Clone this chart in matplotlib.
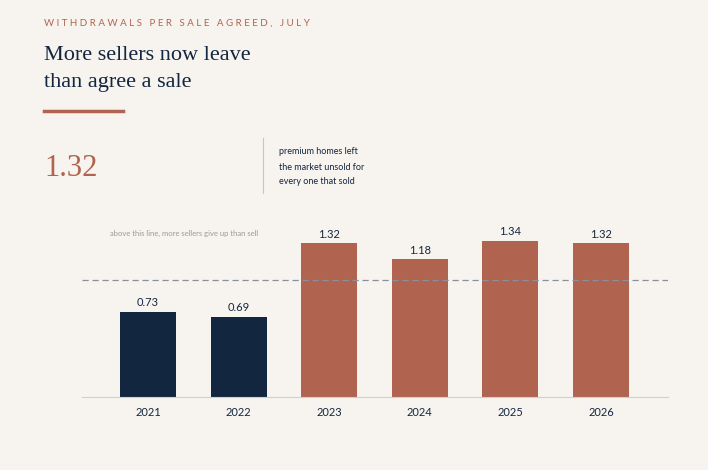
import matplotlib
matplotlib.use("Agg")
import matplotlib.pyplot as plt

years = ["2021", "2022", "2023", "2024", "2025", "2026"]
values = [0.73, 0.69, 1.32, 1.18, 1.34, 1.32]
labels = ["0.73", "0.69", "1.32", "1.18", "1.34", "1.32"]
threshold = 1.0

bg = "#f7f4ef"
navy = "#13263f"
terra = "#b0634f"

W, H = 708, 470
fig = plt.figure(figsize=(W/100, H/100), dpi=100, facecolor=bg)

def fx(x): return x / W
def fy(y): return 1 - y / H

fig.text(fx(44), fy(23), "W I T H D R A W A L S   P E R   S A L E   A G R E E D ,   J U L Y",
         color=terra, fontsize=7, va="center", family="Lato")
fig.text(fx(44), fy(56), "More sellers now leave", color=navy, fontsize=16, va="center", family="Liberation Serif")
fig.text(fx(44), fy(83), "than agree a sale", color=navy, fontsize=16, va="center", family="Liberation Serif")
fig.add_artist(plt.Line2D([fx(44), fx(123)], [fy(111), fy(111)], color=terra, lw=2.5))
fig.text(fx(44), fy(168), "1.32", color=terra, fontsize=22, va="center", family="Liberation Serif")
fig.add_artist(plt.Line2D([fx(263), fx(263)], [fy(138), fy(193)], color="#c9c4bc", lw=0.8))
for i, t in enumerate(["premium homes left", "the market unsold for", "every one that sold"]):
    fig.text(fx(279), fy(152 + i * 15), t, color=navy, fontsize=6.5, va="center", family="Lato")

ax = fig.add_axes([fx(82), fy(397), fx(668) - fx(82), (397 - 215) / H])
ax.set_facecolor(bg)
colors = [navy if v < threshold else terra for v in values]
x = list(range(len(years)))
ax.bar(x, values, width=0.62, color=colors)
for xi, v, l in zip(x, values, labels):
    ax.text(xi, v + 0.03, l, ha="center", va="bottom", color=navy, fontsize=8, family="Lato")
ax.axhline(threshold, color="#8a8f99", lw=0.9, ls=(0, (5, 3)))
ax.text(-0.42, 1.4, "above this line, more sellers give up than sell", color="#9a9a9a",
        fontsize=5.5, va="center", family="Lato")
ax.set_xlim(-0.73, 5.74)
ax.set_ylim(0, 1.56)
ax.set_xticks(x)
ax.set_xticklabels(years, fontsize=8, color=navy, family="Lato")
ax.tick_params(axis="x", length=0, pad=7)
ax.set_yticks([])
for s in ["top", "right", "left"]:
    ax.spines[s].set_visible(False)
ax.spines["bottom"].set_color("#d3cec6")
ax.spines["bottom"].set_linewidth(0.8)

fig.savefig("out.png", dpi=100, facecolor=bg)
